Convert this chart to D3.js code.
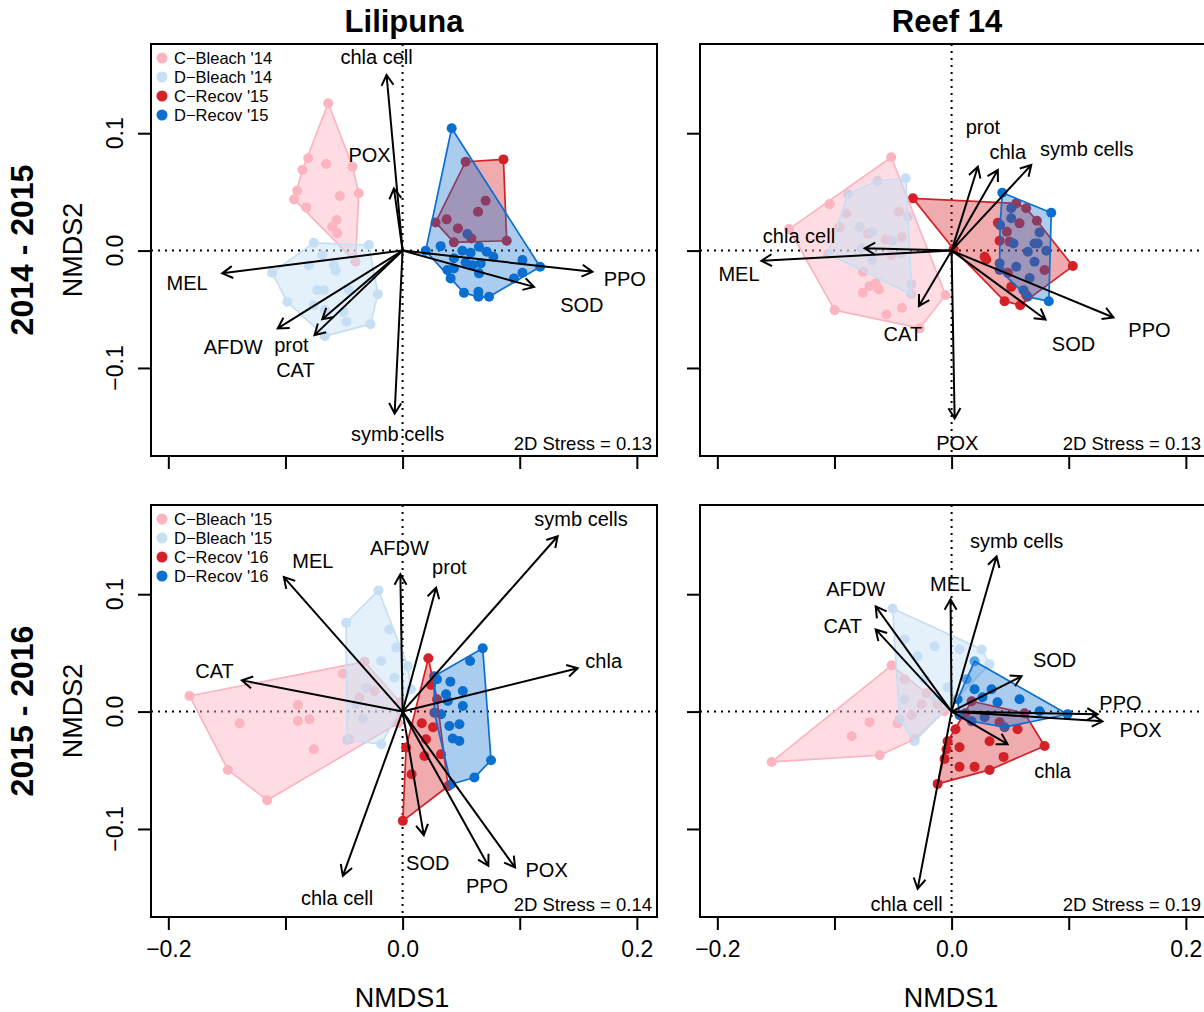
<!DOCTYPE html>
<html>
<head>
<meta charset="utf-8">
<script src="https://cdn.jsdelivr.net/npm/d3@7"></script>
<style>
  body { margin: 0; background: #fff; }
  svg { display: block; font-family: "Liberation Sans", Arial, Helvetica, sans-serif; }
</style>
</head>
<body>
<svg id="chart" width="1204" height="1012"></svg>
<script>
// ---- labels ----
const siteNames = ["Lilipuna", "Reef 14"];
const periodNames = ["2014 - 2015", "2015 - 2016"];
const legend1415 = ["C\u2212Bleach '14", "D\u2212Bleach '14", "C\u2212Recov '15", "D\u2212Recov '15"];
const legend1516 = ["C\u2212Bleach '15", "D\u2212Bleach '15", "C\u2212Recov '16", "D\u2212Recov '16"];
const stressValues = [["0.13", "0.13"], ["0.14", "0.19"]];
const xTicks = [-0.2, -0.1, 0, 0.1, 0.2];
const yTicks = [-0.1, 0, 0.1];
const xTickLabels = ["\u22120.2", "", "0.0", "", "0.2"];
const yTickLabels = ["\u22120.1", "0.0", "0.1"];

// ---- Lilipuna 2014-2015 ----
const lil1415CBleach = [[-0.0635,0.1255],[-0.0806,0.0786],[-0.0855,0.0686],[-0.0652,0.0737],[-0.0427,0.0714],[-0.09,0.051],[-0.0926,0.0436],[-0.0536,0.0465],[-0.0374,0.0488],[-0.0823,0.0368],[-0.0564,0.026],[-0.0601,0.0203],[-0.0558,0.0147],[-0.0402,-0.0095]];
const lil1415DBleach = [[-0.0758,0.0066],[-0.0288,0.0047],[-0.1114,-0.0189],[-0.0801,-0.0124],[-0.0686,-0.0038],[-0.0587,-0.0124],[-0.0573,-0.0172],[-0.0985,-0.0436],[-0.0729,-0.0337],[-0.0673,-0.0337],[-0.0459,-0.0337],[-0.0211,-0.0371],[-0.0758,-0.0465],[-0.0664,-0.0507],[-0.0502,-0.0522],[-0.0479,-0.0607],[-0.0274,-0.0627],[-0.0664,-0.0729]];
const lil1415CRecov = [[0.0538,0.0757],[0.0861,0.0777],[0.0889,0.0084],[0.0438,0.007],[0.0282,0.024],[0.0376,0.0266],[0.0473,0.0189],[0.0644,0.0331],[0.0709,0.0425],[0.0587,0.0104]];
const lil1415DRecov = [[0.0419,0.1042],[0.0197,-0.0002],[0.0325,0.0038],[0.051,-0.0002],[0.0581,-0.0019],[0.0652,0.0032],[0.0718,-0.001],[0.0775,-0.0053],[0.1023,-0.0081],[0.0438,-0.0066],[0.0538,-0.0101],[0.0596,-0.0124],[0.0667,-0.0109],[0.1174,-0.0138],[0.0382,-0.0166],[0.0438,-0.0152],[0.0652,-0.0194],[0.1023,-0.0189],[0.041,-0.0237],[0.0951,-0.0237],[0.0524,-0.036],[0.0647,-0.0351],[0.0647,-0.0394],[0.0738,-0.0394],[0.0553,0.0141]];
const lil1415Vars = ["chla cell", "POX", "MEL", "AFDW", "prot", "CAT", "symb cells", "PPO", "SOD"];
const lil1415VecX = [-0.0137, -0.0074, -0.154, -0.1066, -0.0686, -0.0752, -0.0068, 0.1621, 0.1122];
const lil1415VecY = [0.1496, 0.053, -0.0194, -0.0663, -0.0584, -0.072, -0.1388, -0.0181, -0.0309];
const lil1415LabX = [-0.0222, -0.0282, -0.184, -0.1447, -0.0949, -0.0915, -0.0043, 0.1897, 0.153];
const lil1415LabY = [0.165, 0.0814, -0.0277, -0.082, -0.0806, -0.1019, -0.1564, -0.0243, -0.0465];

// ---- Reef 14 2014-2015 ----
const reef1415CBleach = [[-0.0515,0.0795],[-0.1041,0.0396],[-0.1388,0.0183],[-0.0998,-0.0507],[-0.0557,-0.0544],[-0.0424,-0.0488],[-0.0051,-0.0379],[-0.0757,-0.036],[-0.07,-0.0303],[-0.062,-0.0331],[-0.0757,-0.0181],[-0.0648,-0.028],[-0.0898,0.0317],[-0.0956,0.0198],[-0.0714,0.0141],[-0.0563,0.0095],[-0.045,0.0331],[-0.0424,0.0113],[-0.0515,-0.0038],[-0.0273,-0.0661]];
const reef1415DBleach = [[-0.0392,0.0616],[-0.0634,0.0595],[-0.0885,0.0482],[-0.0785,0.0198],[-0.0677,0.016],[-0.0373,0.0288],[-0.0506,0.0084],[-0.077,0.0019],[-0.1055,-0.003],[-0.0677,-0.0081],[-0.0429,-0.0024],[-0.0344,-0.0286],[-0.0344,-0.0371]];
const reef1415CRecov = [[-0.033,0.0445],[0.0395,0.0237],[0.041,0.0084],[0.0552,0.0402],[0.0637,0.036],[0.058,0.0232],[0.0472,0.016],[0.0728,0.0254],[0.0495,0.0075],[0.1035,-0.0132],[0.0452,-0.0431],[0.0586,-0.0465],[0.0509,-0.0309],[0.0296,-0.0075],[0.048,-0.0189],[0.0794,-0.0166],[0.0637,-0.0379],[0.0017,0.0013],[0.0282,-0.0053]];
const reef1415DRecov = [[0.0433,0.0493],[0.0851,0.0322],[0.083,-0.0431],[0.0509,0.036],[0.0509,0.0275],[0.0751,0.0155],[0.0708,0.0061],[0.0529,0.0061],[0.0651,-0.001],[0.0808,-0.0002],[0.0736,0.0061],[0.0708,-0.0095],[0.0552,-0.0138],[0.041,-0.0109],[0.0614,-0.0337],[0.0666,-0.0234],[0.0414,0.0217],[0.0648,-0.0394],[0.041,-0.0166]];
const reef1415Vars = ["prot", "chla", "symb cells", "chla cell", "MEL", "CAT", "POX", "SOD", "PPO"];
const reef1415VecX = [0.0224, 0.0395, 0.068, -0.0742, -0.1624, -0.0279, 0.0026, 0.0802, 0.1382];
const reef1415VecY = [0.0714, 0.0686, 0.0729, 0.0019, -0.0087, -0.0473, -0.143, -0.0587, -0.057];
const reef1415LabX = [0.0267, 0.048, 0.1154, -0.1303, -0.1815, -0.0416, 0.0049, 0.1041, 0.1689];
const reef1415LabY = [0.1055, 0.0842, 0.0871, 0.0124, -0.0194, -0.0712, -0.1635, -0.0791, -0.0672];

// ---- Lilipuna 2015-2016 ----
const lil1516CBleach = [[-0.1819,0.0133],[-0.051,0.0323],[-0.0326,0.0426],[-0.0894,0.0056],[-0.1392,-0.01],[-0.0894,-0.008],[-0.0795,-0.0066],[-0.0758,-0.0321],[-0.1491,-0.0497],[-0.1156,-0.0755],[-0.0369,0.0119],[-0.0241,0.0175],[-0.0454,-0.0236],[-0.0038,-0.01],[-0.0021,0.008]];
const lil1516DBleach = [[-0.0206,0.1032],[-0.0482,0.0757],[-0.0113,0.07],[-0.0055,0.0545],[-0.0183,0.0431],[0.0044,0.0388],[-0.007,0.0289],[-0.0311,0.0204],[-0.034,-0.006],[-0.0183,-0.0278],[-0.0474,-0.0242],[-0.0397,0.0062],[0.0073,0.019]];
const lil1516CRecov = [[0.022,0.0454],[0.0243,0.0226],[0.0294,0.0105],[0.0164,-0.01],[0.003,-0.0306],[0.0186,-0.0378],[0.0328,-0.0363],[0.0077,-0.0534],[0.0002,-0.0931],[0.0388,-0.0636],[0.02,-0.0236],[0.026,-0.0134]];
const lil1516DRecov = [[0.0684,0.0539],[0.0576,0.0431],[0.0408,0.0255],[0.0514,0.0175],[0.0294,0.0275],[0.0386,0.009],[0.0514,0.0048],[0.0485,-0.0108],[0.0399,-0.0123],[0.0428,-0.023],[0.0485,-0.025],[0.0755,-0.0414],[0.0613,-0.0562],[0.0414,-0.0619],[0.0271,-0.0009],[0.0329,-0.0023],[0.0371,0.0147],[0.0269,0.0301]];
const lil1516Vars = ["MEL", "AFDW", "prot", "symb cells", "chla", "CAT", "chla cell", "SOD", "PPO", "POX"];
const lil1516VecX = [-0.1014, -0.0019, 0.0286, 0.1324, 0.1495, -0.1372, -0.051, 0.0181, 0.0732, 0.096];
const lil1516VecY = [0.1146, 0.1169, 0.1055, 0.1494, 0.0369, 0.0266, -0.1399, -0.1053, -0.1314, -0.1328];
const lil1516LabX = [-0.0766, -0.0027, 0.0399, 0.1523, 0.1717, -0.1606, -0.0559, 0.0215, 0.0721, 0.123];
const lil1516LabY = [0.1282, 0.1396, 0.1231, 0.1645, 0.0431, 0.0351, -0.1589, -0.1285, -0.1484, -0.1351];

// ---- Reef 14 2015-2016 ----
const reef1516CBleach = [[-0.1536,-0.0429],[-0.0614,-0.0372],[-0.0853,-0.021],[-0.0461,-0.0099],[-0.0341,-0.0031],[-0.0256,0.0062],[-0.0119,0.0062],[-0.0213,0.0156],[-0.0401,0.0275],[-0.0512,0.0394],[-0.0316,-0.0236],[-0.006,0.0003],[-0.07,-0.009]];
const reef1516DBleach = [[-0.0503,0.0879],[-0.0401,0.0615],[-0.029,0.0471],[-0.0145,0.0556],[0.0068,0.053],[0.0256,0.053],[0.0324,0.0403],[-0.023,0.0275],[-0.0034,0.0207],[-0.0401,0.0105],[-0.0128,0.0122],[-0.0316,-0.0253],[-0.0444,-0.0066]];
const reef1516CRecov = [[-0.0119,-0.0616],[-0.006,-0.0403],[0.0068,-0.0471],[0.0196,-0.0471],[0.0324,-0.0497],[0.0444,-0.0386],[0.0794,-0.0293],[-0.0034,-0.0253],[0.0034,-0.015],[0.0119,-0.0014],[0.041,-0.0091],[0.0563,-0.015],[0.0623,-0.0014],[0.0171,0.0088],[0.0068,-0.0304],[0.0324,-0.0253],[-0.0043,-0.0321]];
const reef1516DRecov = [[0.0196,0.0428],[0.0128,0.0275],[0.0196,0.019],[0.0341,0.019],[0.0264,0.0122],[0.0392,0.008],[0.058,0.0105],[0.0751,0.0003],[0.099,-0.0023],[0.0068,-0.0031],[0.0171,-0.0082],[0.0282,-0.0048],[0.0452,-0.0133],[0.0051,0.0105]];
const reef1516Vars = ["symb cells", "MEL", "AFDW", "CAT", "SOD", "PPO", "POX", "chla", "chla cell"];
const reef1516VecX = [0.0384, -0.0009, -0.0648, -0.0648, 0.0597, 0.1246, 0.1288, 0.0478, -0.029];
const reef1516VecY = [0.1322, 0.0956, 0.0896, 0.07, 0.0301, -0.0023, -0.0083, -0.0278, -0.151];
const reef1516LabX = [0.0555, -0.0009, -0.0819, -0.093, 0.0879, 0.1442, 0.1613, 0.0862, -0.0384];
const reef1516LabY = [0.1458, 0.1092, 0.1049, 0.0734, 0.0445, 0.0079, -0.0159, -0.0508, -0.164];

// ---- style ----
const groupColors = ["#FBB4C0", "#C6DFF5", "#D42127", "#0B6FD1"];
const groupFillOpacity = [0.45, 0.45, 0.38, 0.35];

const panels = [
  { row: 0, col: 0, groups: [lil1415CBleach, lil1415DBleach, lil1415CRecov, lil1415DRecov], vars: lil1415Vars, vx: lil1415VecX, vy: lil1415VecY, lx: lil1415LabX, ly: lil1415LabY, legend: legend1415 },
  { row: 0, col: 1, groups: [reef1415CBleach, reef1415DBleach, reef1415CRecov, reef1415DRecov], vars: reef1415Vars, vx: reef1415VecX, vy: reef1415VecY, lx: reef1415LabX, ly: reef1415LabY },
  { row: 1, col: 0, groups: [lil1516CBleach, lil1516DBleach, lil1516CRecov, lil1516DRecov], vars: lil1516Vars, vx: lil1516VecX, vy: lil1516VecY, lx: lil1516LabX, ly: lil1516LabY, legend: legend1516 },
  { row: 1, col: 1, groups: [reef1516CBleach, reef1516DBleach, reef1516CRecov, reef1516DRecov], vars: reef1516Vars, vx: reef1516VecX, vy: reef1516VecY, lx: reef1516LabX, ly: reef1516LabY }
];

// panel boxes (pixels)
const panelLeft = [151, 700];
const panelTop = [44, 505];
const panelW = 506, panelH = 412;

const svg = d3.select("#chart");

panels.forEach(p => {
  const left = panelLeft[p.col], top = panelTop[p.row];
  const x = d3.scaleLinear().domain([-0.2148, 0.2172]).range([left, left + panelW]);
  const y = d3.scaleLinear().domain([-0.175, 0.176]).range([top + panelH, top]);
  const g = svg.append("g");

  // zero lines
  g.append("line")
    .attr("x1", left).attr("x2", left + panelW).attr("y1", y(0)).attr("y2", y(0))
    .attr("stroke", "#000").attr("stroke-width", 2).attr("stroke-dasharray", "2 5");
  g.append("line")
    .attr("x1", x(0)).attr("x2", x(0)).attr("y1", top).attr("y2", top + panelH)
    .attr("stroke", "#000").attr("stroke-width", 2).attr("stroke-dasharray", "2 5");

  // points first, hulls on top (translucent)
  p.groups.forEach((pts, gi) => {
    g.append("g").selectAll("circle").data(pts).enter().append("circle")
      .attr("cx", d => x(d[0])).attr("cy", d => y(d[1])).attr("r", 5)
      .attr("fill", groupColors[gi]);
  });
  p.groups.forEach((pts, gi) => {
    const hull = d3.polygonHull(pts.map(d => [x(d[0]), y(d[1])]));
    g.append("path")
      .attr("d", "M" + hull.join("L") + "Z")
      .attr("fill", groupColors[gi]).attr("fill-opacity", groupFillOpacity[gi])
      .attr("stroke", groupColors[gi]).attr("stroke-width", 1.7)
      .attr("stroke-linejoin", "round");
  });

  // vectors
  const ox = x(0), oy = y(0);
  const headLen = 12, headAng = Math.PI / 6;
  p.vars.forEach((name, i) => {
    const tx = x(p.vx[i]), ty = y(p.vy[i]);
    const a = Math.atan2(ty - oy, tx - ox);
    const h1 = [tx - headLen * Math.cos(a - headAng), ty - headLen * Math.sin(a - headAng)];
    const h2 = [tx - headLen * Math.cos(a + headAng), ty - headLen * Math.sin(a + headAng)];
    g.append("path")
      .attr("d", `M${ox},${oy}L${tx},${ty}M${h1}L${tx},${ty}L${h2}`)
      .attr("fill", "none").attr("stroke", "#000").attr("stroke-width", 2)
      .attr("stroke-linejoin", "miter");
    g.append("text")
      .attr("x", x(p.lx[i])).attr("y", y(p.ly[i])).attr("dy", "0.36em")
      .attr("text-anchor", "middle").attr("font-size", 20).text(name);
  });

  // frame
  g.append("rect")
    .attr("x", left).attr("y", top).attr("width", panelW).attr("height", panelH)
    .attr("fill", "none").attr("stroke", "#000").attr("stroke-width", 2);

  // x ticks
  const xAxis = d3.axisBottom(x).tickValues(xTicks).tickSize(13).tickPadding(11)
    .tickFormat((d, i) => p.row === 1 ? xTickLabels[i] : "");
  g.append("g").attr("transform", `translate(0,${top + panelH})`).call(xAxis)
    .call(s => s.select(".domain").remove())
    .call(s => s.selectAll(".tick line").attr("stroke-width", 2))
    .call(s => s.selectAll("text").attr("font-size", 23).attr("font-family", "Liberation Sans, Arial, sans-serif").attr("fill", "#000"));

  // y ticks
  const yAxis = d3.axisLeft(y).tickValues(yTicks).tickSize(13).tickFormat("");
  g.append("g").attr("transform", `translate(${left},0)`).call(yAxis)
    .call(s => s.select(".domain").remove())
    .call(s => s.selectAll(".tick line").attr("stroke-width", 2));
  if (p.col === 0) {
    yTicks.forEach((v, i) => {
      g.append("text")
        .attr("transform", `translate(${left - 28},${y(v)}) rotate(-90)`)
        .attr("text-anchor", "middle").attr("font-size", 23).text(yTickLabels[i]);
    });
  }

  // stress
  g.append("text")
    .attr("x", left + panelW - 5).attr("y", top + panelH - 6)
    .attr("text-anchor", "end").attr("font-size", 18.5)
    .text("2D Stress = " + stressValues[p.row][p.col]);

  // legend
  if (p.legend) {
    p.legend.forEach((lab, i) => {
      const ry = top + 14 + i * 19;
      g.append("circle").attr("cx", left + 11).attr("cy", ry).attr("r", 5.5).attr("fill", groupColors[i]);
      g.append("text").attr("x", left + 23).attr("y", ry).attr("dy", "0.36em")
        .attr("font-size", 16.5).text(lab);
    });
  }
});

// titles
const titleX = [404, 947];
siteNames.forEach((t, i) => {
  svg.append("text").attr("x", titleX[i]).attr("y", 32)
    .attr("text-anchor", "middle").attr("font-size", 31).attr("font-weight", "bold").text(t);
  svg.append("text").attr("x", panelLeft[i] + 251).attr("y", 1007)
    .attr("text-anchor", "middle").attr("font-size", 27).text("NMDS1");
});
periodNames.forEach((t, i) => {
  const cy = panelTop[i] + 206;
  svg.append("text").attr("transform", `translate(33,${cy}) rotate(-90)`)
    .attr("text-anchor", "middle").attr("font-size", 32).attr("font-weight", "bold").text(t);
  svg.append("text").attr("transform", `translate(82,${cy}) rotate(-90)`)
    .attr("text-anchor", "middle").attr("font-size", 27).text("NMDS2");
});
</script>
</body>
</html>
